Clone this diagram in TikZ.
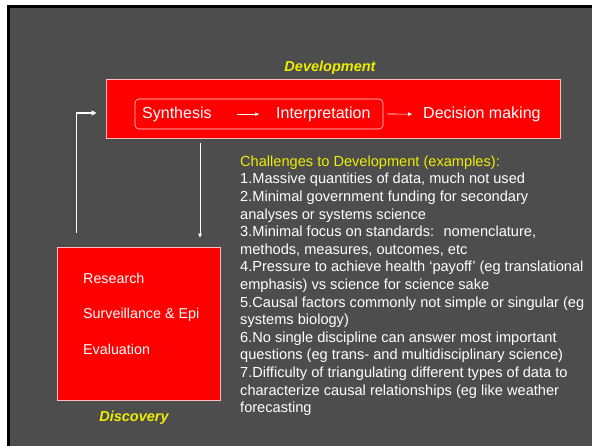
\documentclass[tikz,border=0pt]{standalone}
\usepackage{fontspec}
\setmainfont{Liberation Sans}
\usetikzlibrary{arrows.meta}
\definecolor{slidegray}{RGB}{77,77,77}
\definecolor{slidered}{RGB}{255,0,0}
\definecolor{slideyellow}{RGB}{238,238,0}

\tikzset{
	redbox/.style={fill=slidered, draw=white!75!slidered, line width=0.8pt, inner sep=0pt},
	boxtext/.style={text=white, font=\fontsize{16}{19}\selectfont, inner sep=2pt},
	listtext/.style={text=white, font=\fontsize{14.3}{17}\selectfont, inner sep=2pt},
	headlabel/.style={text=slideyellow, font=\fontsize{14.5}{17}\selectfont\bfseries\itshape},
	flow/.style={draw=white, line width=0.6pt, -{Triangle[length=4pt,width=3.5pt]}},
	feed/.style={draw=white, line width=1.6pt, -{Triangle[length=5pt,width=5pt]}},
}

\begin{document}
\begin{tikzpicture}[x=1pt, y=-1pt]
	\useasboundingbox (0,0) rectangle (592,446);
	% slide background
	\fill[white] (0,0) rectangle (592,446);
	\fill[black] (7,5) rectangle (592,446);
	\fill[slidegray] (10,8) rectangle (592,446);

	% development
	\node[redbox, minimum width=454pt, minimum height=59pt] (devbox) at (333,108.5) {};
	\node[headlabel, anchor=base] (devlabel) at (330,71.5) {Development};
	\node[draw=white!85!slidered, line width=0.6pt, rounded corners=4pt, minimum width=248pt, minimum height=30pt] (pair) at (259,114) {};
	\node[boxtext, anchor=base west] (synth) at (140,118.3) {Synthesis};
	\node[boxtext, anchor=base west] (interp) at (274,118.3) {Interpretation};
	\node[boxtext, anchor=base west] (decis) at (421,118.3) {Decision making};
	\draw[flow, shorten <=23pt, shorten >=15pt] (synth) -- (interp);
	\draw[flow, shorten <=4pt, shorten >=9pt] (pair.east) -- (decis.west);

	% discovery
	\node[redbox, minimum width=163pt, minimum height=153pt] (discbox) at (138.5,323.5) {};
	\node[listtext, anchor=base west] (research) at (81,284) {Research};
	\node[listtext, anchor=base west] (surveil) at (81,319) {Surveillance \& Epi};
	\node[listtext, anchor=base west] (evaluat) at (81,354.5) {Evaluation};
	\node[headlabel, anchor=base] (disclabel) at (134,421.7) {Discovery};

	% cycle
	\draw[feed] ([xshift=20pt,yshift=14pt]discbox.north west) |- ([xshift=-9pt,yshift=-4.5pt]devbox.west);
	\draw[flow] ([xshift=-133pt,yshift=-5pt]devbox.south) -- ([xshift=61.5pt,yshift=9pt]discbox.north);

	% challenges
	\node[anchor=north west, align=left, inner sep=0pt, text=white, font=\fontsize{14.6}{17.6}\selectfont] (challenges) at (240,155.5) {%
		\textcolor{slideyellow}{Challenges to Development (examples):}\\
		1.Massive quantities of data, much not used\\
		2.Minimal government funding for secondary\\
		analyses or systems science\\
		3.Minimal focus on standards:~ nomenclature,\\
		methods, measures, outcomes, etc\\
		4.Pressure to achieve health ‘payoff’ (eg translational\\
		emphasis) vs science for science sake\\
		5.Causal factors commonly not simple or singular (eg\\
		systems biology)\\
		6.No single discipline can answer most important\\
		questions (eg trans- and multidisciplinary science)\\
		7.Difficulty of triangulating different types of data to\\
		characterize causal relationships (eg like weather\\
		forecasting};
\end{tikzpicture}
\end{document}
